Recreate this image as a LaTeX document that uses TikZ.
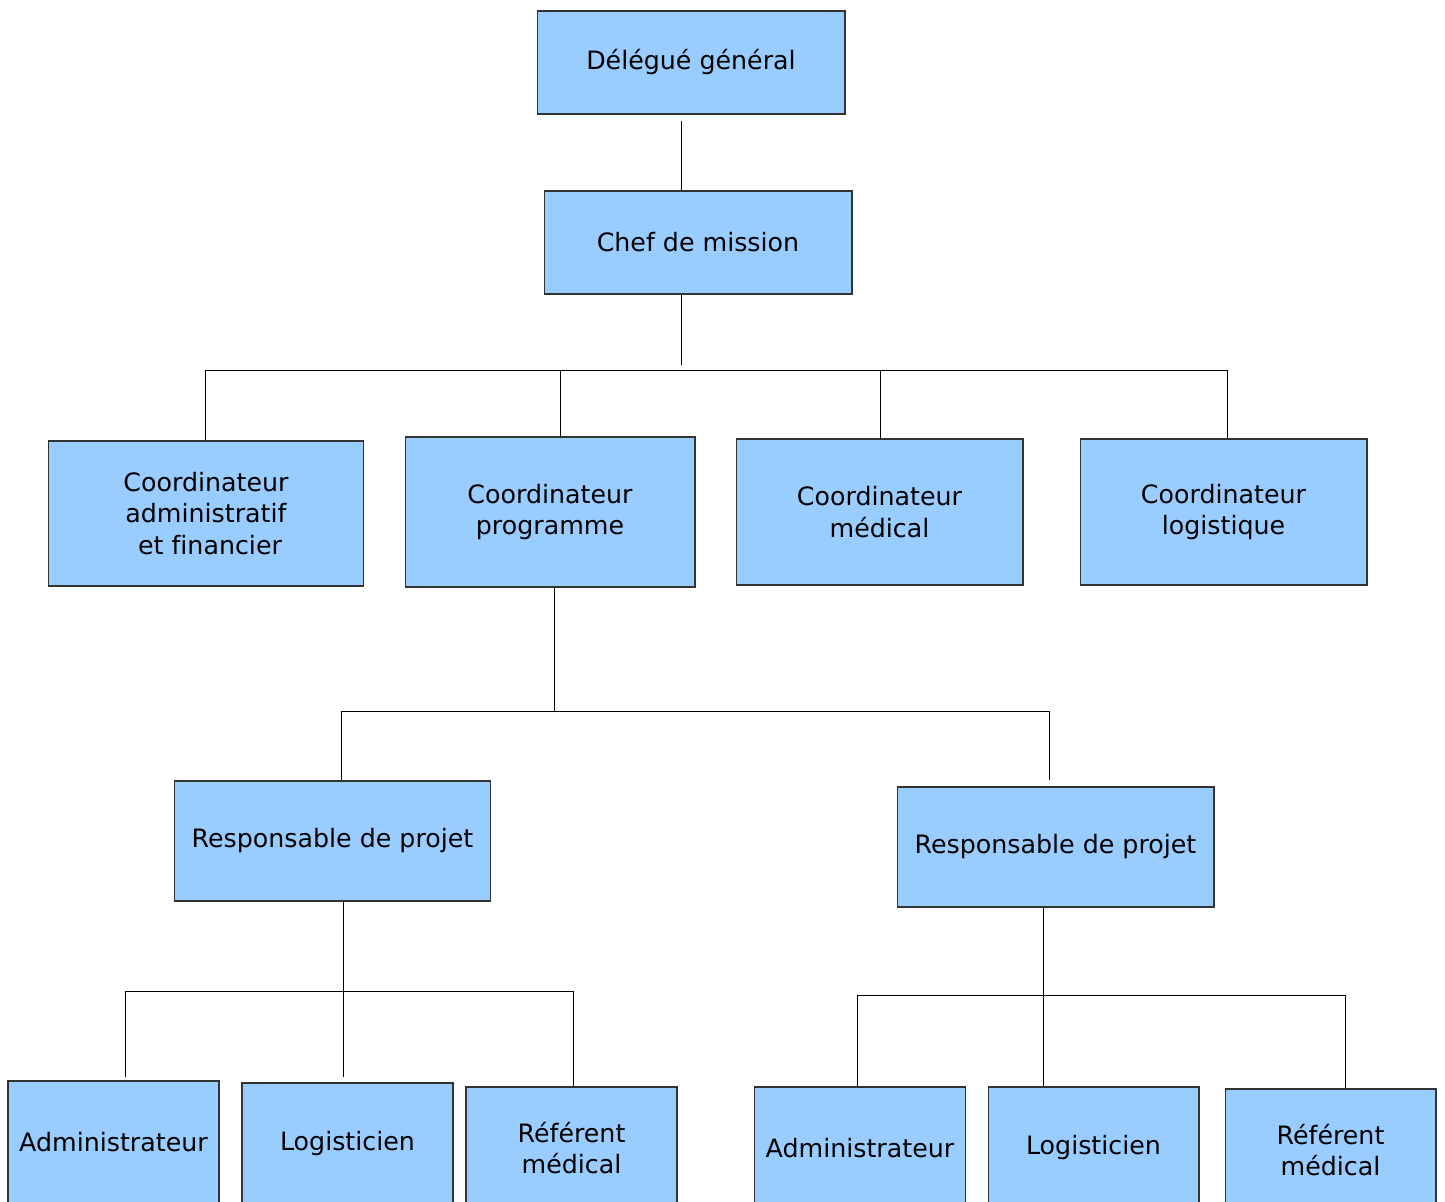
\documentclass[tikz,border=0pt]{standalone}
\usepackage{fontspec}
\setmainfont{DejaVu Sans}[Ligatures=NoCommon]
\usetikzlibrary{positioning}
\definecolor{bleuposte}{HTML}{99CCFF}
\tikzstyle{poste}=[draw=black!80,fill=bleuposte,line width=0.6pt,align=center,
                inner sep=0pt,font=\fontsize{14.4}{18}\selectfont]
\tikzstyle{haut}=[poste,minimum width=6.16cm,minimum height=2.06cm]
\tikzstyle{coord}=[poste,minimum width=5.74cm,minimum height=2.92cm]
\tikzstyle{resp}=[poste,minimum width=6.34cm,minimum height=2.4cm]
\tikzstyle{equipe}=[poste,minimum width=4.22cm,minimum height=2.44cm]
\tikzstyle{lien}=[draw=black,line width=0.55pt]

\begin{document}
\begin{tikzpicture}[x=0.02cm,y=-0.02cm]
\useasboundingbox (0,0) rectangle (1445,1202);

\node[haut] (delegue) at (691,62.5) {Délégué général};
\node[haut] (chef) at (698,242.5) {Chef de mission};

\node[coord,minimum width=6.32cm,minimum height=2.9cm] (cadmin) at (206,513.5)
{Coordinateur\\administratif\\~et financier};
\node[coord,minimum width=5.8cm,minimum height=3cm] (cprog) at (550,512)
{Coordinateur\\programme};
\node[coord] (cmed) at (879.5,512) {Coordinateur\\médical};
\node[coord] (clog) at (1223.5,512) {Coordinateur\\logistique};

\node[resp] (resp1) at (332.5,841) {Responsable de projet};
\node[resp] (resp2) at (1055.5,847) {Responsable de projet};

\node[equipe] (admin1) at (113.5,1142) {Administrateur};
\node[equipe] (logi1) at (347.5,1144) {Logisticien};
\node[equipe] (ref1) at (571.5,1148) {Référent\\médical};
\node[equipe] (admin2) at (860,1148) {Administrateur};
\node[equipe] (logi2) at (1093.5,1148) {Logisticien};
\node[equipe] (ref2) at (1330.5,1150) {Référent\\médical};

% points de jonction
\coordinate (m0) at (681,370);
\coordinate (m1) at (205,370);
\coordinate (m2) at (560,370);
\coordinate (m3) at (880,370);
\coordinate (m4) at (1227,370);
\coordinate (p0) at (554,711);
\coordinate (p1) at (341,711);
\coordinate (p2) at (1049,711);
\coordinate (r0) at (343,991);
\coordinate (r1) at (125,991);
\coordinate (r3) at (573,991);
\coordinate (s0) at (1043,995);
\coordinate (s1) at (857,995);
\coordinate (s3) at (1345,995);

\draw[lien]
([yshift=-0.12cm]delegue.south -| m0) -- (chef.north -| m0)
(chef.south -| m0) -- ([yshift=0.1cm]m0)
(m1) -- (m4)
(m1) -- (cadmin.north -| m1)
(m2) -- (cprog.north -| m2)
(m3) -- (cmed.north -| m3)
(m4) -- (clog.north -| m4)
;
\draw[lien]
(cprog.south -| p0) -- ([yshift=-0.02cm]p0)
(p1) -- (p2)
(p1) -- (resp1.north -| p1)
(p2) -- ([yshift=0.12cm]resp2.north -| p2)
;
\draw[lien]
(resp1.south -| r0) -- ([yshift=0.1cm]logi1.north -| r0)
(r1) -- (r3)
(r1) -- ([yshift=0.06cm]admin1.north -| r1)
(r3) -- (ref1.north -| r3)
;
\draw[lien]
(resp2.south -| s0) -- (logi2.north -| s0)
(s1) -- (s3)
(s1) -- (admin2.north -| s1)
(s3) -- (ref2.north -| s3)
;
\end{tikzpicture}
\end{document}
